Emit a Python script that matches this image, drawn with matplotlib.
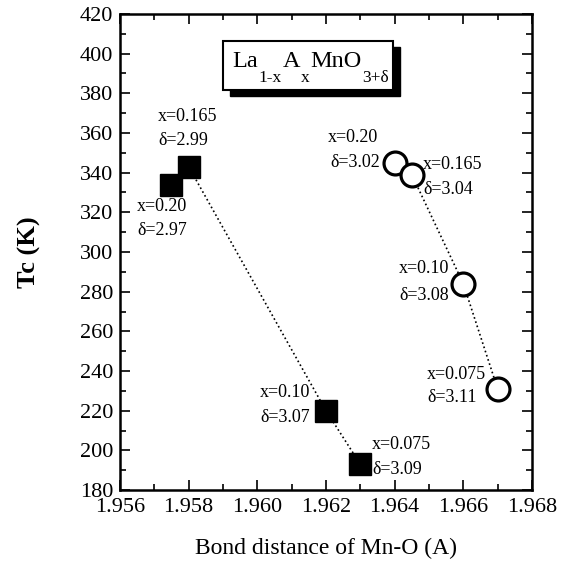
import matplotlib
matplotlib.use('Agg')
import matplotlib.pyplot as plt
from matplotlib.patches import Rectangle
from matplotlib.ticker import MultipleLocator

plt.rcParams['font.family'] = ['Liberation Serif', 'DejaVu Serif']

# filled squares
sq_bond = [1.9575, 1.958, 1.962, 1.963]
sq_tc = [334, 343, 220, 193]
sq_x = ['0.20', '0.165', '0.10', '0.075']
sq_delta = ['2.97', '2.99', '3.07', '3.09']

# open circles
ci_bond = [1.964, 1.9645, 1.966, 1.967]
ci_tc = [345, 339, 284, 231]
ci_x = ['0.20', '0.165', '0.10', '0.075']
ci_delta = ['3.02', '3.04', '3.08', '3.11']

x_ticks = [1.956, 1.958, 1.960, 1.962, 1.964, 1.966, 1.968]
y_ticks = list(range(180, 421, 20))

# formula pieces: (text, is_subscript)
formula = [('La', False), ('1-x', True), ('A', False), ('x', True),
           ('MnO', False), ('3+δ', True)]

# label placement (x label pos, delta label pos), data coords
sq_lab_pos = [((1.95650, 322.7), (1.95650, 310.6)),
              ((1.95711, 368.1), (1.95711, 356.0)),
              ((1.96008, 229.4), (1.96008, 216.8)),
              ((1.96334, 202.7), (1.96336, 190.1))]
ci_lab_pos = [((1.96206, 357.5), (1.96212, 344.9)),
              ((1.96483, 343.9), (1.96483, 331.3)),
              ((1.96413, 291.9), (1.96413, 278.3)),
              ((1.96494, 238.0), (1.96494, 226.4))]

fig = plt.figure(figsize=(5.63, 5.62), dpi=100)
ax = fig.add_axes([0.2131, 0.1281, 0.7318, 0.847])

ax.plot(sq_bond, sq_tc, ':', color='black', lw=1.2, zorder=1)
ax.plot(ci_bond, ci_tc, ':', color='black', lw=1.2, zorder=1)
ax.plot(sq_bond, sq_tc, 's', color='black', ms=16.5, ls='none', zorder=3)
ax.plot(ci_bond, ci_tc, 'o', mfc='white', mec='black', mew=2.3, ms=16.5,
        ls='none', zorder=3)

fs = 13
for xs, ds, pos in zip(sq_x, sq_delta, sq_lab_pos):
    ax.text(pos[0][0], pos[0][1], 'x=' + xs, fontsize=fs, va='center', ha='left', zorder=2)
    ax.text(pos[1][0], pos[1][1], 'δ=' + ds, fontsize=fs, va='center', ha='left', zorder=2)
for xs, ds, pos in zip(ci_x, ci_delta, ci_lab_pos):
    ax.text(pos[0][0], pos[0][1], 'x=' + xs, fontsize=fs, va='center', ha='left', zorder=2)
    ax.text(pos[1][0], pos[1][1], 'δ=' + ds, fontsize=fs, va='center', ha='left', zorder=2)

# formula box with drop shadow
ax.add_patch(Rectangle((0.267, 0.8275), 0.413, 0.103, transform=ax.transAxes,
                       facecolor='black', edgecolor='black', zorder=4))
ax.add_patch(Rectangle((0.250, 0.840), 0.413, 0.103, transform=ax.transAxes,
                       facecolor='white', edgecolor='black', lw=1.5, zorder=5))

# chain the formula pieces, subscripts dropped well below the baseline
first = ax.text(0.272, 0.889, formula[0][0], transform=ax.transAxes,
                fontsize=17.5, va='baseline', ha='left', zorder=6)
prev = first
for txt, sub in formula[1:]:
    if sub:
        prev = ax.annotate(txt, xy=(1, 0), xycoords=(prev, first),
                           xytext=(0.5, -10), textcoords='offset points',
                           fontsize=12.5, va='bottom', ha='left', zorder=6)
    else:
        prev = ax.annotate(txt, xy=(1, 0), xycoords=(prev, first),
                           xytext=(0.5, 0), textcoords='offset points',
                           fontsize=17.5, va='bottom', ha='left', zorder=6)

ax.set_xlim(1.956, 1.968)
ax.set_ylim(180, 420)
ax.set_xticks(x_ticks)
ax.set_xticklabels(['%.3f' % t for t in x_ticks])
ax.set_yticks(y_ticks)
ax.xaxis.set_minor_locator(MultipleLocator(0.001))
ax.yaxis.set_minor_locator(MultipleLocator(10))
ax.tick_params(which='both', direction='in', top=True, right=True, width=1.2)
ax.tick_params(which='major', length=7, labelsize=16)
ax.tick_params(axis='x', which='major', pad=6)
ax.tick_params(axis='y', which='major', pad=5)
ax.tick_params(which='minor', length=4)
for s in ax.spines.values():
    s.set_linewidth(1.8)

ax.set_xlabel('Bond distance of Mn-O (A)', fontsize=17, labelpad=15)
ax.set_ylabel('Tc (K)', fontsize=19, fontweight='bold', labelpad=28)

fig.savefig('out.png', dpi=100)
